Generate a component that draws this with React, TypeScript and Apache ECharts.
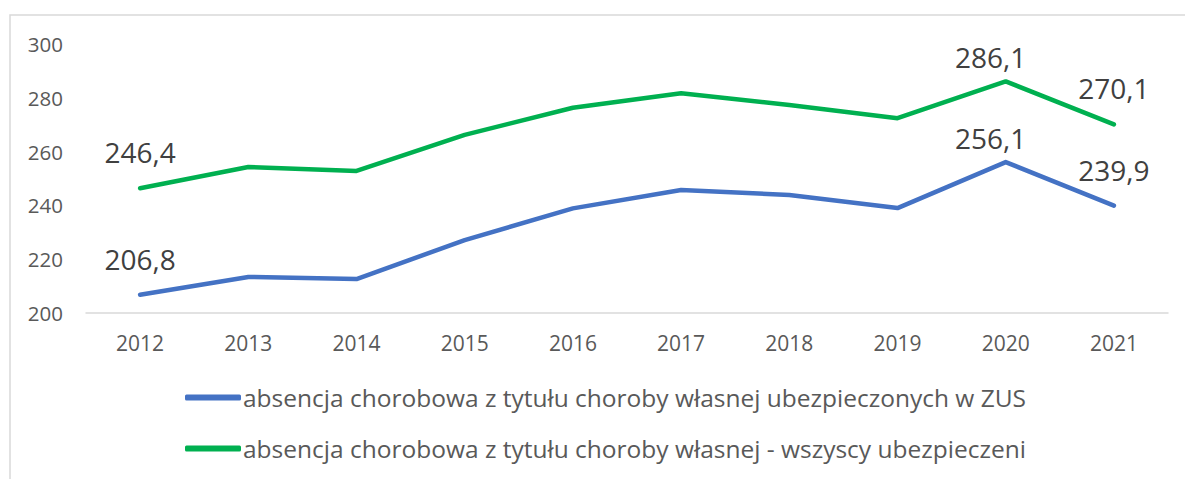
import React, { useEffect, useRef } from "react";
import * as echarts from "echarts";

const years = ["2012", "2013", "2014", "2015", "2016", "2017", "2018", "2019", "2020", "2021"];
const zusValues = [206.8, 213.4, 212.6, 227.1, 238.9, 245.7, 243.9, 239.0, 256.1, 239.9];
const allValues = [246.4, 254.3, 252.8, 266.2, 276.3, 281.7, 277.3, 272.4, 286.1, 270.1];
const seriesNames = [
  "absencja chorobowa z tytułu choroby własnej ubezpieczonych w ZUS",
  "absencja chorobowa z tytułu choroby własnej - wszyscy ubezpieczeni",
];
const labelledIndices = [0, 8, 9];

const FONT = "'Open Sans', 'Noto Sans', sans-serif";

function buildData(values: number[]) {
  return values.map((v, i) => {
    if (!labelledIndices.includes(i)) return { value: v };
    const isPeak = i === 8;
    return {
      value: v,
      label: {
        show: true,
        position: "top",
        distance: isPeak ? 10 : 22,
        offset: isPeak ? [-15, 0] : [0, 0],
        formatter: (p: any) => Number(p.value).toFixed(1).replace(".", ","),
        color: "#404040",
        fontSize: 28,
        fontFamily: FONT,
      },
    };
  });
}

export default function App() {
  const ref = useRef<HTMLDivElement>(null);
  useEffect(() => {
    if (!ref.current) return;
    const chart = echarts.init(ref.current, null, { renderer: "svg" });
    chart.setOption({
      animation: false,
      backgroundColor: "#ffffff",
      graphic: [
        {
          type: "rect",
          shape: { x: 10, y: 15, width: 1200, height: 500 },
          style: { fill: "none", stroke: "#d9d9d9", lineWidth: 1.5 },
          silent: true,
        },
      ],
      grid: { left: 86, right: 17, top: 44, bottom: 166 },
      xAxis: {
        type: "category",
        data: years,
        boundaryGap: true,
        axisLine: { lineStyle: { color: "#d9d9d9", width: 1.5 } },
        axisTick: { show: false },
        axisLabel: { color: "#595959", fontSize: 21, fontFamily: FONT, margin: 19 },
      },
      yAxis: {
        type: "value",
        min: 200,
        max: 300,
        interval: 20,
        splitLine: { show: false },
        axisLine: { show: false },
        axisTick: { show: false },
        axisLabel: { color: "#595959", fontSize: 20.5, fontFamily: FONT, margin: 23 },
      },
      legend: {
        orient: "vertical",
        left: 185,
        top: 385,
        padding: 0,
        itemGap: 26,
        itemWidth: 56,
        itemHeight: 6,
        icon: "roundRect",
        textStyle: { color: "#595959", fontSize: 24.5, fontFamily: FONT, padding: [0, 0, 0, -3] },
        data: seriesNames,
      },
      series: [
        {
          name: seriesNames[0],
          type: "line",
          data: buildData(zusValues),
          symbol: "circle",
          symbolSize: 0,
          showSymbol: true,
          lineStyle: { color: "#4472C4", width: 4.5, cap: "round", join: "round" },
          itemStyle: { color: "#4472C4" },
        },
        {
          name: seriesNames[1],
          type: "line",
          data: buildData(allValues),
          symbol: "circle",
          symbolSize: 0,
          showSymbol: true,
          lineStyle: { color: "#00B050", width: 4.5, cap: "round", join: "round" },
          itemStyle: { color: "#00B050" },
        },
      ],
    });
    return () => chart.dispose();
  }, []);
  return (
    <div
      ref={ref}
      style={{ position: "fixed", left: 0, top: 0, width: 1185, height: 479 }}
    />
  );
}
